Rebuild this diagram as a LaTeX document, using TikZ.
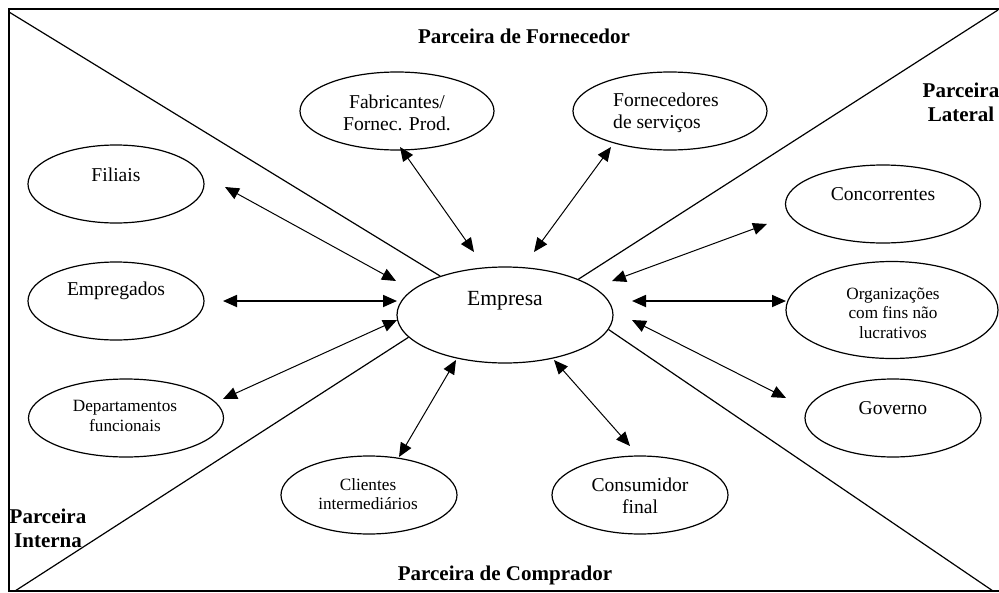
\documentclass[tikz,border=0pt]{standalone}
\usepackage{fontspec}
\setmainfont{Liberation Serif}
\usetikzlibrary{shapes.geometric,arrows.meta}
\tikzset{
  ell/.style={draw, ellipse, line width=1.2pt, inner sep=0pt},
  txt/.style={inner sep=0pt, align=center, font=\fontsize{19.6}{22}\selectfont},
  smalltxt/.style={inner sep=0pt, align=center, font=\fontsize{17.2}{19.5}\selectfont},
  zone/.style={inner sep=0pt, align=center, font=\fontsize{21}{24}\selectfont\bfseries},
  conn/.style={{Triangle[length=14pt,width=12pt]}-{Triangle[length=14pt,width=12pt]}, line width=1pt},
  thickconn/.style={conn, line width=1.8pt},
  divider/.style={line width=1.2pt}
}
\begin{document}
\begin{tikzpicture}[x=1pt,y=-1pt]
\useasboundingbox (0,0) rectangle (999,592);
\clip (0,0) rectangle (999,592);
\draw[line width=1.3pt] (9,9) rectangle (1010,591);

% central node
\node[ell, minimum width=216pt, minimum height=96pt] (emp) at (505,315) {};
\node[inner sep=0pt, font=\fontsize{21.6}{24}\selectfont] (emptxt) at (505,301) {Empresa};

% corners of the frame
\coordinate (tl) at (9,12);
\coordinate (tr) at (998,10);
\coordinate (bl) at (15,591);
\coordinate (br) at (993,591);
\draw[divider] (tl) -- (emp.149);
\draw[divider] (tr) -- (emp.26);
\draw[divider] (bl) -- (emp.193);
\draw[divider] (br) -- (emp.352);

% outer ellipses
\node[ell, minimum width=194pt, minimum height=78pt] (fab) at (397,111) {};
\node[txt] (fabtxt) at (397,113) {Fabricantes/\\Fornec. Prod.};
\node[ell, minimum width=194pt, minimum height=78pt] (forn) at (670,111) {};
\node[txt, align=left, anchor=west] (forntxt) at (613,113) {Fornecedores\\de serviços};
\node[ell, minimum width=176pt, minimum height=78pt] (fil) at (116,184) {};
\node[txt] (filtxt) at (116,175) {Filiais};
\node[ell, minimum width=176pt, minimum height=78pt] (empr) at (116,301) {};
\node[txt] (emprtxt) at (116,291) {Empregados};
\node[ell, minimum width=195pt, minimum height=78pt] (dep) at (126,418) {};
\node[smalltxt] (deptxt) at (125,416) {Departamentos\\funcionais};
\node[ell, minimum width=176pt, minimum height=78pt] (cli) at (369,495) {};
\node[smalltxt] (clitxt) at (368,494) {Clientes\\intermediários};
\node[ell, minimum width=176pt, minimum height=78pt] (cons) at (640,495) {};
\node[txt] (constxt) at (640,496) {Consumidor\\final};
\node[ell, minimum width=195pt, minimum height=78pt] (conc) at (883,204) {};
\node[txt] (conctxt) at (883,194) {Concorrentes};
\node[ell, minimum width=212pt, minimum height=97pt] (org) at (892,310) {};
\node[smalltxt] (orgtxt) at (893,313) {Organizações\\com fins não\\lucrativos};
\node[ell, minimum width=176pt, minimum height=78pt] (gov) at (893,418) {};
\node[txt] (govtxt) at (893,408) {Governo};

% zone labels
\node[zone] (zf) at (524,36) {Parceira de Fornecedor};
\node[zone] (zl) at (961,102) {Parceira\\Lateral};
\node[zone] (zi) at (48,528) {Parceira\\Interna};
\node[zone] (zc) at (505,575) {Parceira de Comprador};

% arrow end points
\coordinate (a1) at (225,187);  \coordinate (b1) at (396,281);
\coordinate (a2) at (400,147);  \coordinate (b2) at (474,252);
\coordinate (a3) at (611,147);  \coordinate (b3) at (534,252);
\coordinate (a4) at (223,301);  \coordinate (b4) at (397,301);
\coordinate (a5) at (223,399);  \coordinate (b5) at (397,320);
\coordinate (a6) at (399,457);  \coordinate (b6) at (456,360);
\coordinate (a7) at (630,446);  \coordinate (b7) at (554,360);
\coordinate (a8) at (767,224);  \coordinate (b8) at (612,281);
\coordinate (a9) at (786,301);  \coordinate (b9) at (632,301);
\coordinate (a10) at (786,398); \coordinate (b10) at (632,320);

\draw[conn] (a1) -- (b1);
\draw[conn] (a2) -- (b2);
\draw[conn] (a3) -- (b3);
\draw[thickconn] (a4) -- (b4);
\draw[conn] (a5) -- (b5);
\draw[conn] (a6) -- (b6);
\draw[conn] (a7) -- (b7);
\draw[conn] (a8) -- (b8);
\draw[thickconn] (a9) -- (b9);
\draw[conn] (a10) -- (b10);
\end{tikzpicture}
\end{document}
